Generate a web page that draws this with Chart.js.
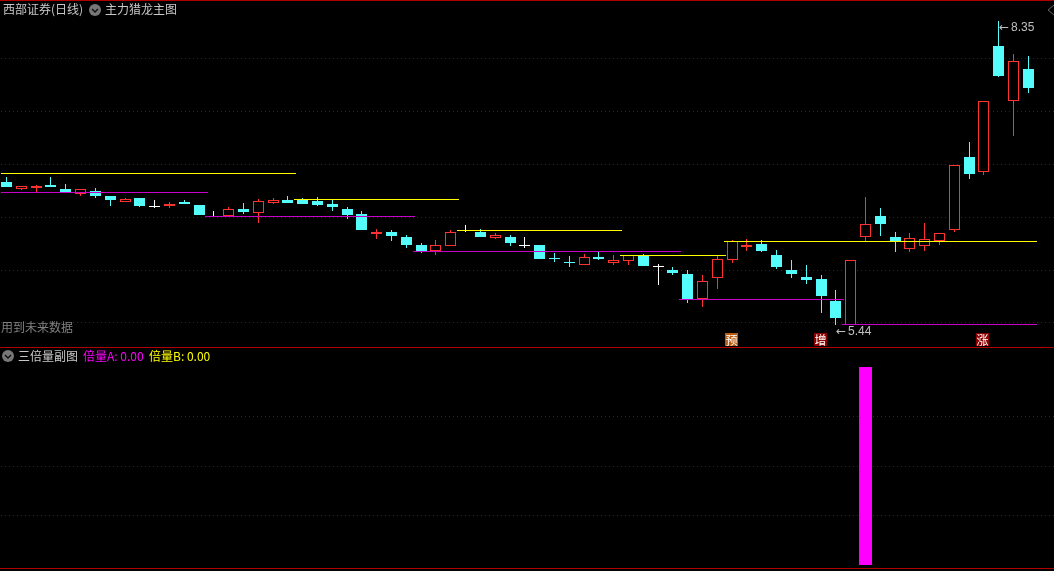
<!DOCTYPE html>
<html lang="zh">
<head>
    <meta charset="UTF-8">
    <title>西部证券(日线)</title>
    <script src="https://cdn.jsdelivr.net/npm/chart.js"></script>
    <style>
        html, body {
            margin: 0;
            padding: 0;
            background: #000;
            overflow: hidden;
        }
        body {
            width: 1054px;
            height: 571px;
            position: relative;
            font-family: "Noto Sans CJK SC", sans-serif;
            font-size: 12px;
            color: #c8c8c8;
        }
        canvas {
            position: absolute;
            left: 0;
        }
        .rule {
            position: absolute;
            left: 0;
            width: 1054px;
            height: 1px;
            background: #b00000;
        }
        .txt {
            position: absolute;
            line-height: 14px;
            white-space: nowrap;
        }
        .price {
            font-family: "Liberation Sans", sans-serif;
            color: #c0c0c0;
        }
        .price span {
            font-family: "DejaVu Sans", sans-serif;
            margin-right: 2px;
        }
        .signal {
            position: absolute;
            width: 13px;
            height: 13px;
            line-height: 13px;
            text-align: center;
            color: #fff;
        }
        svg {
            position: absolute;
        }
    </style>
</head>
<body>
    <canvas id="mainChart" width="1054" height="348" style="top:0"></canvas>
    <canvas id="subChart" width="1054" height="220" style="top:348px"></canvas>

    <div class="rule" style="top:0"></div>
    <div class="rule" style="top:347px"></div>
    <div class="rule" style="top:568px"></div>

    <div class="txt" style="left:3px;top:2px">西部证券(日线)</div>
    <svg style="left:89px;top:4px" width="12" height="12"><circle cx="6" cy="6" r="6" fill="#777"/><path d="M3 5 L6 8 L9 5" stroke="#111" stroke-width="1.5" fill="none"/></svg>
    <div class="txt" style="left:105px;top:2px">主力猎龙主图</div>
    <svg style="left:1047px;top:4px" width="7" height="12"><path d="M7 1 L1 6 L7 11" stroke="#666" fill="none"/></svg>
    <div class="txt" style="left:1px;top:320px;color:#808080">用到未来数据</div>

    <svg style="left:2px;top:350px" width="12" height="12"><circle cx="6" cy="6" r="6" fill="#777"/><path d="M3 5 L6 8 L9 5" stroke="#111" stroke-width="1.5" fill="none"/></svg>
    <div class="txt" style="left:18px;top:349px">三倍量副图</div>
    <div class="txt" style="left:83px;top:349px;color:#ff00ff">倍量A: 0.00</div>
    <div class="txt" style="left:149px;top:349px;color:#ffff00">倍量B: 0.00</div>

    <script>
        // K线数据,从图上读出来的
        const candleIndex = [];
        for (let i = 0; i < 70; i++) candleIndex.push(i);

        const opens = [6.808, 6.741, 6.751, 6.780, 6.741, 6.693, 6.722, 6.674, 6.617, 6.655,
            6.579, 6.579, 6.617, 6.588, 6.483, 6.483, 6.550, 6.512, 6.607, 6.636,
            6.636, 6.626, 6.598, 6.550, 6.502, 6.311, 6.330, 6.282, 6.205, 6.148,
            6.196, 6.349, 6.330, 6.272, 6.282, 6.205, 6.205, 6.081, 6.043, 6.014,
            6.090, 6.033, 6.052, 6.110, 6.004, 5.966, 5.928, 5.689, 5.890, 6.062,
            6.186, 6.215, 6.110, 5.966, 5.899, 5.880, 5.669, 5.440, 6.282, 6.483,
            6.282, 6.167, 6.196, 6.244, 6.349, 7.048, 6.904, 8.110, 7.583, 7.890];
        const closes = [6.760, 6.770, 6.770, 6.760, 6.713, 6.741, 6.674, 6.636, 6.646, 6.579,
            6.579, 6.598, 6.598, 6.492, 6.483, 6.550, 6.521, 6.626, 6.636, 6.607,
            6.598, 6.588, 6.569, 6.492, 6.349, 6.330, 6.291, 6.205, 6.148, 6.205,
            6.330, 6.349, 6.282, 6.301, 6.224, 6.205, 6.071, 6.071, 6.033, 6.090,
            6.071, 6.062, 6.110, 6.004, 6.004, 5.937, 5.689, 5.861, 6.071, 6.244,
            6.205, 6.148, 5.995, 5.928, 5.870, 5.717, 5.507, 6.062, 6.406, 6.406,
            6.244, 6.272, 6.263, 6.320, 6.971, 6.885, 7.583, 7.823, 7.966, 7.708];
        const highs = [6.856, 6.770, 6.780, 6.856, 6.789, 6.741, 6.751, 6.674, 6.655, 6.655,
            6.636, 6.617, 6.636, 6.588, 6.531, 6.569, 6.607, 6.646, 6.655, 6.674,
            6.655, 6.665, 6.636, 6.569, 6.531, 6.358, 6.349, 6.301, 6.224, 6.253,
            6.349, 6.397, 6.358, 6.320, 6.301, 6.282, 6.205, 6.129, 6.100, 6.119,
            6.138, 6.110, 6.110, 6.119, 6.024, 5.995, 5.966, 5.918, 6.110, 6.253,
            6.263, 6.253, 6.158, 6.062, 6.014, 5.918, 5.775, 6.062, 6.665, 6.559,
            6.330, 6.320, 6.416, 6.320, 6.971, 7.191, 7.583, 8.350, 8.033, 8.014];
        const lows = [6.760, 6.732, 6.713, 6.760, 6.713, 6.674, 6.655, 6.579, 6.617, 6.569,
            6.559, 6.559, 6.598, 6.492, 6.483, 6.483, 6.502, 6.416, 6.598, 6.607,
            6.598, 6.579, 6.531, 6.454, 6.349, 6.263, 6.244, 6.177, 6.129, 6.110,
            6.196, 6.330, 6.282, 6.263, 6.196, 6.177, 6.071, 6.043, 5.995, 6.014,
            6.062, 6.014, 6.014, 6.004, 5.823, 5.918, 5.650, 5.612, 5.784, 6.033,
            6.148, 6.138, 5.976, 5.890, 5.832, 5.555, 5.440, 5.440, 6.244, 6.291,
            6.138, 6.138, 6.148, 6.205, 6.330, 6.837, 6.875, 7.813, 7.248, 7.660];

        // 压力线(黄)和支撑线(紫):起点、终点(K线序号)和价位
        const yellowStart = [-0.37, 19.42, 30.42, 41.43, 48.45];
        const yellowEnd = [19.55, 30.56, 41.56, 48.59, 69.59];
        const yellowLevel = [6.890, 6.641, 6.344, 6.105, 6.239];
        const purpleStart = [-0.37, 13.41, 27.45, 45.41, 56.42];
        const purpleEnd = [13.61, 27.59, 45.55, 56.55, 69.59];
        const purpleLevel = [6.708, 6.478, 6.143, 5.684, 5.445];

        const gridPrices = [7.990, 7.483, 6.976, 6.469, 5.961, 5.464];

        // 信号字
        const signalIndex = [49, 55, 66];
        const signalText = ['预', '增', '涨'];
        const signalColor = ['#b85a10', '#8b0000', '#8b0000'];

        // 副图,只有一根柱子
        const ratioIndex = [58];
        const ratioValue = [1];
        const subGrid = [0.25, 0.5, 0.75];

        const RED = '#ff3232';
        const CYAN = '#54fcfc';
        const WHITE = '#ffffff';
        const GRID = '#8a0000';

        function candleColor(i) {
            if (closes[i] > opens[i]) return RED;
            if (closes[i] < opens[i]) return CYAN;
            return WHITE;
        }

        // 把柱子和线对齐到整像素,不然边缘会发虚
        const snapPlugin = {
            id: 'snap',
            beforeDatasetsDraw(chart) {
                chart.getSortedVisibleDatasetMetas().forEach(meta => {
                    meta.data.forEach(el => {
                        if (meta.type === 'bar') {
                            const top = Math.round(Math.min(el.y, el.base));
                            let bottom = Math.round(Math.max(el.y, el.base));
                            if (bottom === top) bottom = top + 1;
                            el.x = Math.floor(el.x) + 0.5;
                            el.y = top;
                            el.base = bottom;
                            el.height = bottom - top;
                        } else {
                            el.x = Math.round(el.x);
                            el.y = Math.floor(el.y) + 0.5;
                        }
                    });
                });
            }
        };

        function segmentDataset(start, end, level, color) {
            return {
                type: 'line',
                data: [{ x: start, y: level }, { x: end, y: level }],
                borderColor: color,
                borderWidth: 1,
                pointRadius: 0,
                order: 0
            };
        }

        const xAxis = {
            type: 'linear',
            display: false,
            offset: false,
            min: -0.44164,
            max: 70.7337
        };

        function gridAxis(min, max, values) {
            return {
                display: true,
                min: min,
                max: max,
                ticks: { display: false },
                border: { display: false, dash: [1, 3], dashOffset: 3 },
                grid: {
                    color: GRID,
                    lineWidth: 1,
                    drawTicks: false,
                    tickLength: 0
                },
                afterBuildTicks: axis => {
                    axis.ticks = values.map(v => ({ value: v }));
                }
            };
        }

        const mainChart = new Chart(document.getElementById('mainChart'), {
            type: 'bar',
            data: {
                datasets: [
                    ...yellowStart.map((s, i) => segmentDataset(s, yellowEnd[i], yellowLevel[i], '#ffff00')),
                    ...purpleStart.map((s, i) => segmentDataset(s, purpleEnd[i], purpleLevel[i], '#c800c8')),
                    {
                        // 实体
                        data: candleIndex.map(i => ({ x: i, y: [opens[i], closes[i]] })),
                        barThickness: 11,
                        grouped: false,
                        inflateAmount: 0,
                        borderWidth: 1,
                        borderSkipped: false,
                        borderColor: candleIndex.map(candleColor),
                        backgroundColor: candleIndex.map(i => candleColor(i) === RED ? '#000000' : candleColor(i)),
                        order: 1
                    },
                    {
                        // 影线
                        data: candleIndex.map(i => ({ x: i, y: [lows[i], highs[i]] })),
                        barThickness: 1,
                        grouped: false,
                        inflateAmount: 0,
                        borderWidth: 0,
                        backgroundColor: candleIndex.map(candleColor),
                        order: 2
                    }
                ]
            },
            options: {
                responsive: false,
                animation: false,
                layout: { padding: 0 },
                plugins: { legend: { display: false }, tooltip: { enabled: false } },
                scales: { x: xAxis, y: gridAxis(5.22, 8.55, gridPrices) }
            },
            plugins: [snapPlugin]
        });

        new Chart(document.getElementById('subChart'), {
            type: 'bar',
            data: {
                datasets: [{
                    data: ratioIndex.map((idx, i) => ({ x: idx, y: ratioValue[i] })),
                    barThickness: 13,
                    grouped: false,
                    inflateAmount: 0,
                    backgroundColor: '#ff00ff'
                }]
            },
            options: {
                responsive: false,
                animation: false,
                layout: { padding: 0 },
                plugins: { legend: { display: false }, tooltip: { enabled: false } },
                scales: { x: Object.assign({}, xAxis), y: gridAxis(-0.01515, 1.09596, subGrid) }
            },
            plugins: [snapPlugin]
        });

        // 信号字和最高、最低价标注,位置从图的坐标轴取
        const xs = mainChart.scales.x;
        const ys = mainChart.scales.y;
        signalIndex.forEach((idx, i) => {
            const d = document.createElement('div');
            d.className = 'signal';
            d.textContent = signalText[i];
            d.style.left = Math.floor(xs.getPixelForValue(idx)) - 7 + 'px';
            d.style.top = '333px';
            d.style.background = signalColor[i];
            document.body.appendChild(d);
        });

        function priceNote(idx, value, dy) {
            const d = document.createElement('div');
            d.className = 'txt price';
            d.innerHTML = '<span>←</span>' + value.toFixed(2);
            d.style.left = Math.floor(xs.getPixelForValue(idx)) + 1 + 'px';
            d.style.top = Math.round(ys.getPixelForValue(value)) + dy + 'px';
            document.body.appendChild(d);
        }
        priceNote(highs.indexOf(Math.max(...highs)), Math.max(...highs), -1);
        priceNote(lows.indexOf(Math.min(...lows)), Math.min(...lows), -1);
    </script>
</body>
</html>
